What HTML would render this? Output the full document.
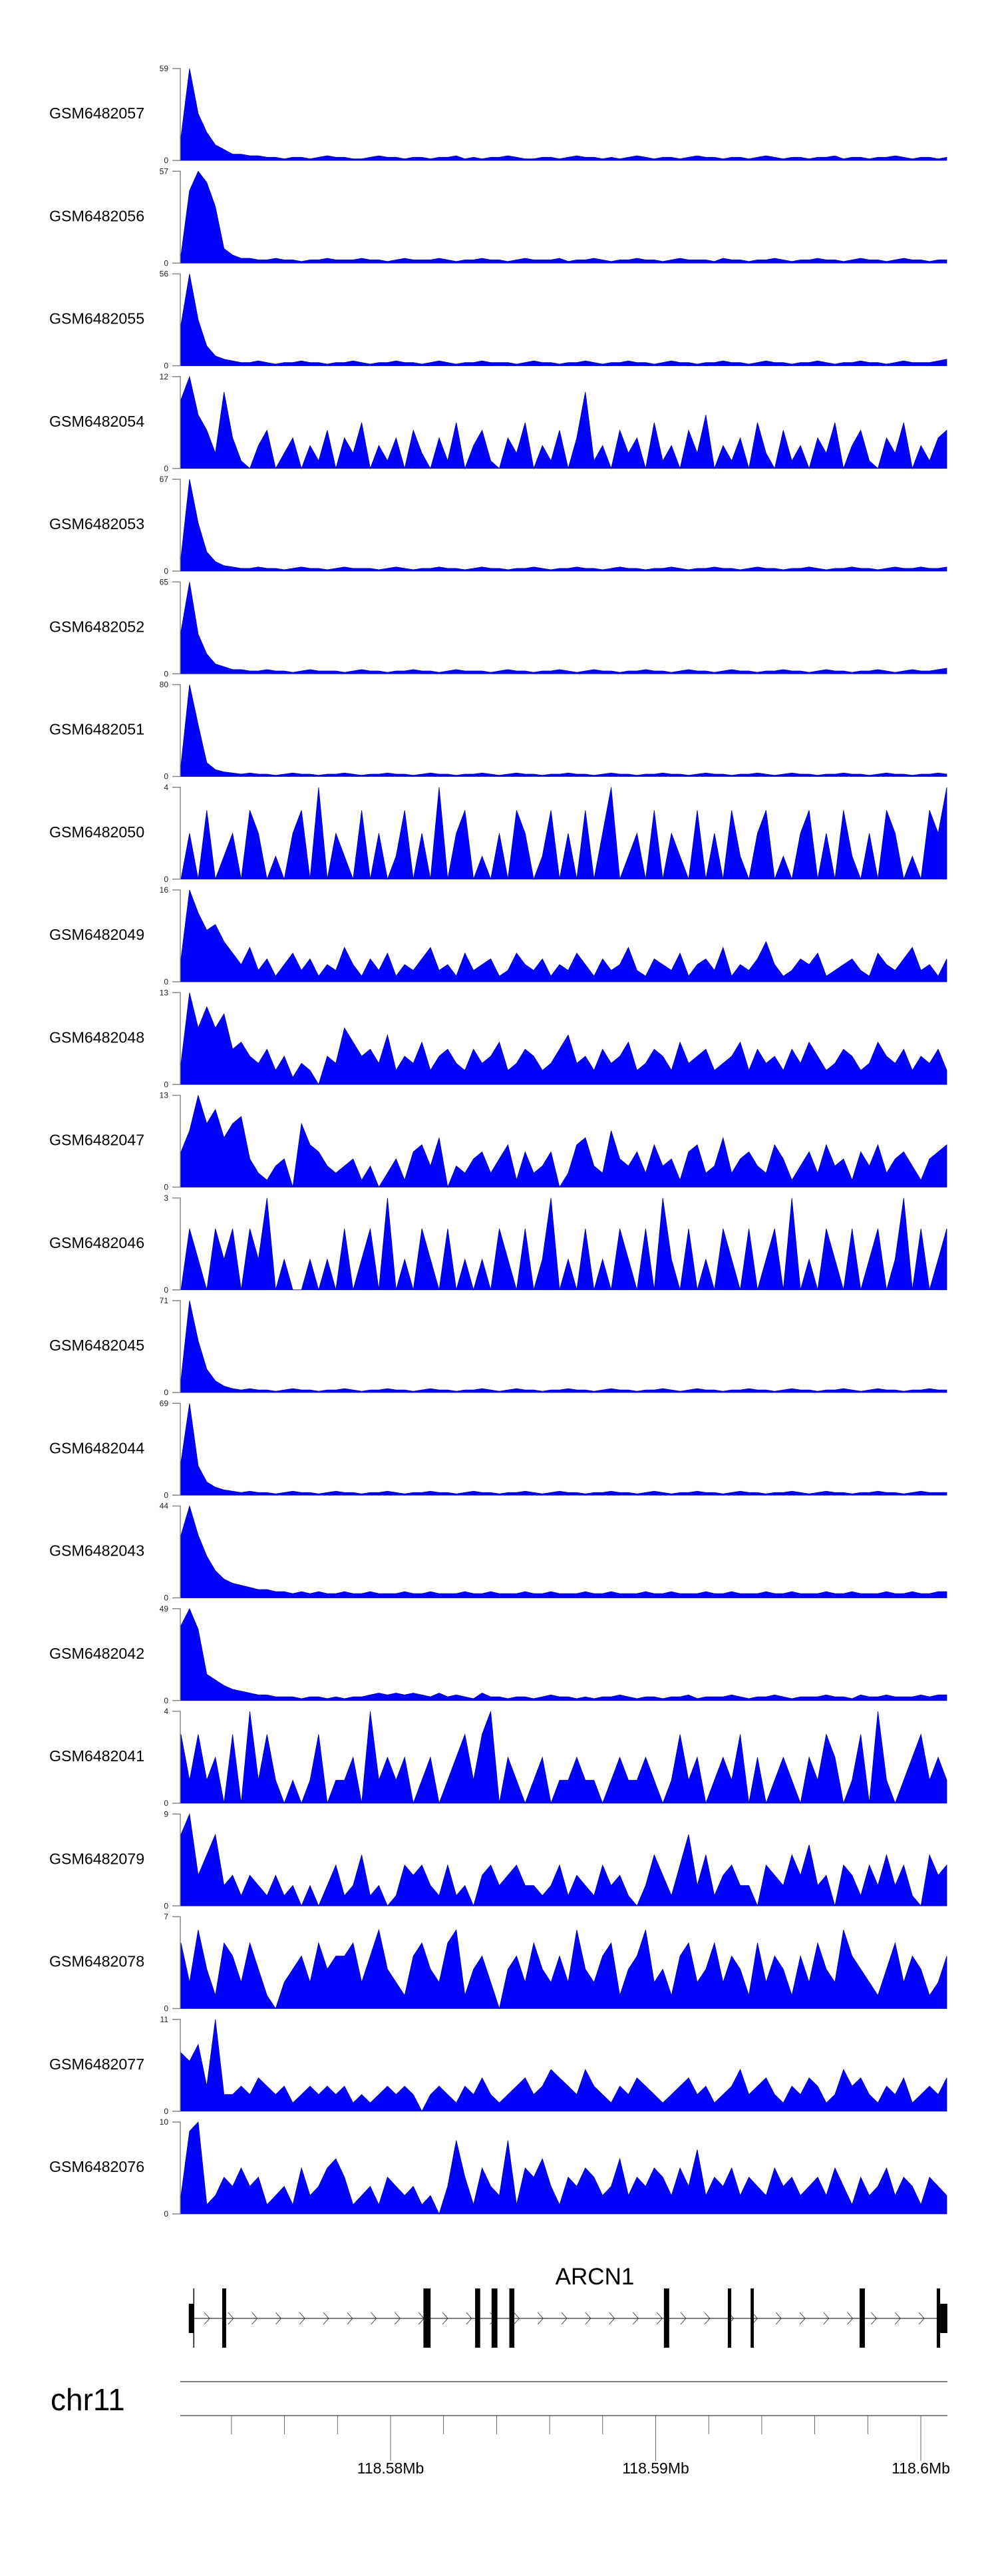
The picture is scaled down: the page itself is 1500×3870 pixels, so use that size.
<!DOCTYPE html>
<html><head><meta charset="utf-8"><style>
html,body{margin:0;padding:0;background:#fff;width:1500px;height:3870px;overflow:hidden}
svg{display:block}
text{font-family:"Liberation Sans",Arial,sans-serif}
</style></head><body>
<svg id="chart" width="1500" height="3870" xmlns="http://www.w3.org/2000/svg"></svg>
<script>
const trackNames=["GSM6482057","GSM6482056","GSM6482055","GSM6482054","GSM6482053","GSM6482052","GSM6482051","GSM6482050","GSM6482049","GSM6482048","GSM6482047","GSM6482046","GSM6482045","GSM6482044","GSM6482043","GSM6482042","GSM6482041","GSM6482079","GSM6482078","GSM6482077","GSM6482076"];
const trackMax=[59,57,56,12,67,65,80,4,16,13,13,3,71,69,44,49,4,9,7,11,10];
const t057=[15,59,30,18,10,7,4,4,3,3,2,2,1,2,2,1,2,3,2,2,1,1,2,3,2,2,1,2,2,1,2,2,3,1,2,1,2,2,3,2,1,1,2,2,1,2,3,2,2,1,2,1,2,3,2,1,2,2,1,2,3,2,2,1,2,2,1,2,3,2,1,2,2,1,2,2,3,1,2,2,1,2,2,3,2,1,2,2,1,2];
const t056=[5,45,57,50,35,9,5,3,3,2,2,3,2,2,1,2,2,3,2,2,2,3,2,2,1,2,3,2,2,2,3,2,1,2,2,3,2,2,1,2,3,2,2,2,3,1,2,2,3,2,1,2,2,3,2,2,1,2,3,2,2,2,1,3,2,2,1,2,2,3,2,1,2,2,3,2,2,1,2,3,2,2,1,2,3,2,2,1,2,2];
const t055=[25,56,28,12,6,4,3,2,2,3,2,1,2,2,3,2,2,1,2,2,3,2,1,2,2,3,2,2,1,2,3,2,1,2,2,3,2,2,2,1,2,3,2,2,1,2,2,3,2,1,2,2,3,2,2,1,2,3,2,2,1,2,2,3,2,2,1,2,3,2,2,1,2,2,3,2,1,2,2,3,2,2,1,2,3,2,2,2,3,4];
const t054=[9,12,7,5,2,10,4,1,0,3,5,0,2,4,0,3,1,5,0,4,2,6,0,3,1,4,0,5,2,0,4,1,6,0,3,5,1,0,4,2,6,0,3,1,5,0,4,10,1,3,0,5,2,4,0,6,1,3,0,5,2,7,0,3,1,4,0,6,2,0,5,1,3,0,4,2,6,0,3,5,1,0,4,2,6,0,3,1,4,5];
const t053=[10,67,35,14,7,4,3,2,2,3,2,2,1,2,3,2,2,1,2,3,2,2,2,1,2,3,2,1,2,2,3,2,2,1,2,3,2,2,1,2,2,3,2,1,2,2,3,2,2,1,2,3,2,2,1,2,2,3,2,1,2,2,3,2,2,1,2,3,2,2,1,2,2,3,2,1,2,2,3,2,2,1,2,3,2,2,3,2,2,3];
const t052=[30,65,28,14,7,5,3,3,2,2,3,2,2,1,2,3,2,2,2,1,2,3,2,2,1,2,2,3,2,2,1,2,3,2,2,2,1,2,3,2,2,1,2,2,3,2,1,2,3,2,2,1,2,2,3,2,2,1,2,3,2,2,1,2,3,2,2,1,2,2,3,2,2,1,2,3,2,2,1,2,2,3,2,1,2,3,2,2,3,4];
const t051=[10,80,45,12,6,4,3,2,3,2,2,1,2,3,2,2,1,2,2,3,2,1,2,2,3,2,2,1,2,3,2,2,1,2,2,3,2,1,2,3,2,2,1,2,2,3,2,2,1,2,3,2,2,1,2,2,3,2,2,1,2,3,2,2,1,2,2,3,2,1,2,3,2,2,1,2,2,3,2,2,1,2,3,2,2,1,2,2,3,2];
const t050=[0,2,0,3,0,1,2,0,3,2,0,1,0,2,3,0,4,0,2,1,0,3,0,2,0,1,3,0,2,0,4,0,2,3,0,1,0,2,0,3,2,0,1,3,0,2,0,3,0,2,4,0,1,2,0,3,0,2,1,0,3,0,2,0,3,1,0,2,3,0,1,0,2,3,0,2,0,3,1,0,2,0,3,2,0,1,0,3,2,4];
const t049=[4,16,12,9,10,7,5,3,6,2,4,1,3,5,2,4,1,3,2,6,3,1,4,2,5,1,3,2,4,6,2,3,1,5,2,3,4,1,2,5,3,2,4,1,3,2,5,3,1,4,2,3,6,2,1,4,3,2,5,1,3,4,2,6,1,3,2,4,7,3,1,2,4,3,5,1,2,3,4,2,1,5,3,2,4,6,2,3,1,4];
const t048=[3,13,8,11,8,10,5,6,4,3,5,2,4,1,3,2,0,4,3,8,6,4,5,3,7,2,4,3,6,2,4,5,3,2,5,3,4,6,2,3,5,4,2,3,5,7,3,4,2,5,3,4,6,2,3,5,4,2,6,3,4,5,2,3,4,6,2,5,3,4,2,5,3,6,4,2,3,5,4,2,3,6,4,3,5,2,4,3,5,2];
const t047=[5,8,13,9,11,7,9,10,4,2,1,3,4,0,9,6,5,3,2,3,4,1,3,0,2,4,1,5,6,3,7,0,3,2,4,5,2,4,6,1,5,2,3,5,0,2,6,7,3,2,8,4,3,5,2,6,3,4,1,5,6,2,3,7,2,4,5,3,2,6,4,1,3,5,2,6,3,4,1,5,3,6,2,4,5,3,1,4,5,6];
const t046=[0,2,1,0,2,1,2,0,2,1,3,0,1,0,0,1,0,1,0,2,0,1,2,0,3,0,1,0,2,1,0,2,0,1,0,1,0,2,1,0,2,0,1,3,0,1,0,2,0,1,0,2,1,0,2,0,3,1,0,2,0,1,0,2,1,0,2,0,1,2,0,3,0,1,0,2,1,0,2,0,1,2,0,1,3,0,2,0,1,2];
const t045=[10,71,40,18,9,5,3,2,3,2,2,1,2,3,2,2,1,2,2,3,2,1,2,2,3,2,2,1,2,3,2,2,1,2,2,3,2,1,2,3,2,2,1,2,2,3,2,2,1,2,3,2,2,1,2,2,3,2,1,2,3,2,2,1,2,2,3,2,2,1,2,3,2,2,1,2,2,3,2,1,2,3,2,2,1,2,2,3,2,2];
const t044=[25,69,22,10,6,4,3,2,3,2,2,1,2,3,2,2,1,2,3,2,2,1,2,2,3,2,1,2,2,3,2,2,1,2,3,2,2,1,2,2,3,2,1,2,3,2,2,1,2,2,3,2,2,1,2,3,2,1,2,2,3,2,2,1,2,3,2,2,1,2,2,3,2,1,2,3,2,2,1,2,2,3,2,2,1,2,3,2,2,2];
const t043=[30,44,30,20,13,9,7,6,5,4,4,3,3,2,3,2,3,2,2,3,2,2,3,2,2,2,3,2,2,3,2,2,2,3,2,2,3,2,2,2,3,2,2,3,2,2,2,3,2,2,3,2,2,2,3,2,2,3,2,2,2,3,2,2,3,2,2,2,3,2,2,3,2,2,2,3,2,2,3,2,2,2,3,2,2,3,2,2,3,3];
const t042=[40,49,38,14,11,8,6,5,4,3,3,2,2,2,1,2,2,1,2,1,2,2,3,4,3,4,3,4,3,2,4,2,3,2,1,4,2,2,1,2,2,1,2,3,2,2,1,2,1,2,2,3,2,1,2,2,1,2,2,3,1,2,2,2,3,2,1,2,2,3,2,1,2,2,2,3,2,2,1,3,2,2,3,2,2,2,3,2,3,3];
const t041=[3,1,3,1,2,0,3,0,4,1,3,1,0,1,0,1,3,0,1,1,2,0,4,1,2,1,2,0,1,2,0,1,2,3,1,3,4,0,2,1,0,1,2,0,1,1,2,1,1,0,1,2,1,1,2,1,0,1,3,1,2,0,1,2,1,3,0,2,0,1,2,1,0,2,1,3,2,0,1,3,0,4,1,0,1,2,3,1,2,1];
const t079=[7,9,3,5,7,2,3,1,3,2,1,3,1,2,0,2,0,2,4,1,2,5,1,2,0,1,4,3,4,2,1,4,1,2,0,3,4,2,3,4,2,2,1,2,4,1,3,2,1,4,2,3,1,0,2,5,3,1,4,7,2,5,1,3,4,2,2,0,4,3,2,5,3,6,2,3,0,4,3,1,4,2,5,2,4,1,0,5,3,4];
const t078=[5,2,6,3,1,5,4,2,5,3,1,0,2,3,4,2,5,3,4,4,5,2,4,6,3,2,1,4,5,3,2,5,6,1,3,4,2,0,3,4,2,5,3,2,4,2,6,3,2,4,5,1,3,4,6,2,3,1,4,5,2,3,5,2,4,3,1,5,2,4,3,1,4,2,5,3,2,6,4,3,2,1,3,5,2,4,3,1,2,4];
const t077=[7,6,8,3,11,2,2,3,2,4,3,2,3,1,2,3,2,3,2,3,1,2,1,2,3,2,3,2,0,2,3,2,1,3,2,4,2,1,2,3,4,2,3,5,4,3,2,5,3,2,1,3,2,4,3,2,1,2,3,4,2,3,1,2,3,5,2,3,4,2,1,3,2,4,3,1,2,5,3,4,2,1,3,2,4,1,2,3,2,4];
const t076=[2,9,10,1,2,4,3,5,3,4,1,2,3,1,5,2,3,5,6,4,1,2,3,1,4,3,2,3,1,2,0,3,8,4,1,5,3,2,8,1,5,4,6,3,1,4,3,5,4,2,3,6,2,4,3,5,4,2,5,3,7,2,4,3,5,2,4,3,2,5,3,4,2,3,4,2,5,3,1,4,2,3,5,2,4,3,1,4,3,2];
const trackValues=[t057,t056,t055,t054,t053,t052,t051,t050,t049,t048,t047,t046,t045,t044,t043,t042,t041,t079,t078,t077,t076];
// gene model (Mb)
const exonStarts=[118.57256,118.57365,118.58124,118.58319,118.58381,118.58448,118.59031,118.59272,118.59358,118.59769,118.60060];
const exonEnds=[118.57259,118.57380,118.58151,118.58338,118.58403,118.58467,118.59051,118.59285,118.59370,118.59789,118.60073];
const utrStarts=[118.57239,118.60073];
const utrEnds=[118.57256,118.60100];
const axisTicks=[118.574,118.576,118.578,118.58,118.582,118.584,118.586,118.588,118.59,118.592,118.594,118.596,118.598,118.6];
const axisLabels=["118.58Mb","118.59Mb","118.6Mb"];
const labelPos=[118.58,118.59,118.6];

const NS="http://www.w3.org/2000/svg";
const svg=document.getElementById('chart');
function mk(tag,attrs,parent){const e=document.createElementNS(NS,tag);for(const k in attrs)e.setAttribute(k,attrs[k]);(parent||svg).appendChild(e);return e;}
const X0=272,X1=1423,TOP0=103,STEP=154.25,H=138;
function gx(mb){return 587+(mb-118.58)*39850;}

trackNames.forEach((name,i)=>{
  const top=TOP0+STEP*i, base=top+H, vals=trackValues[i], max=trackMax[i];
  const g=mk('g',{});
  
  
  const lab=mk('text',{x:74,y:top+75,'font-size':23.2,fill:'#000'},g);lab.textContent=name;
  
  
  const ax=mk('path',{d:`M259 ${top}H271V${base}H259`,stroke:'#888',fill:'none','stroke-width':1.5},g);
  
  
  const tmax=mk('text',{x:253,y:top+4,'font-size':12,'text-anchor':'end',fill:'#222'},g);tmax.textContent=max;
  
  
  const t0=mk('text',{x:253,y:base+4,'font-size':12,'text-anchor':'end',fill:'#222'},g);t0.textContent='0';
  
  
  const n=vals.length;let d=`M${X0} ${base}`;
  vals.forEach((v,j)=>{const x=X0+j*(X1-X0)/(n-1);const y=base-Math.min(v,max)/max*H;d+=`L${x.toFixed(1)} ${y.toFixed(1)}`;});
  d+=`L${X1} ${base}Z`;
  const area=mk('path',{d:d,fill:'#0000ff',stroke:'#00009a','stroke-width':0.8},g);
  
  
});

// gene track
const gg=mk('g',{});


const gl=mk('text',{x:894,y:3432,'font-size':35,'text-anchor':'middle',fill:'#000'},gg);gl.textContent='ARCN1';


const intron=mk('line',{x1:gx(utrEnds[0]),x2:gx(utrStarts[1]),y1:3483,y2:3483,stroke:'#333','stroke-width':1.2},gg);


for(let x=307;x<1405;x+=35.8){
  const c=mk('path',{d:`M${x} 3474L${x+8} 3483L${x} 3492`,stroke:'#333',fill:'none','stroke-width':0.9},gg);
  
  
}
exonStarts.forEach((s,i)=>{
  const x=gx(s),w=Math.max(1.5,gx(exonEnds[i])-x);
  const r=mk('rect',{x:x,y:3438,width:w,height:89,fill:'#000'},gg);
  
  
});
utrStarts.forEach((s,i)=>{
  const x=gx(s),w=gx(utrEnds[i])-x;
  const r=mk('rect',{x:x,y:3461,width:w,height:44,fill:'#000'},gg);
  
  
});

// genome axis
const ag=mk('g',{});


const chr=mk('text',{x:76,y:3621,'font-size':46,fill:'#000'},ag);chr.textContent='chr11';


const l1=mk('line',{x1:271,x2:1424,y1:3578,y2:3578,stroke:'#555','stroke-width':1.5},ag);


const l2=mk('line',{x1:271,x2:1424,y1:3629,y2:3629,stroke:'#888','stroke-width':2},ag);


axisTicks.forEach(t=>{
  const major=labelPos.some(p=>Math.abs(p-t)<1e-6);
  const x=gx(t);
  const tk=mk('line',{x1:x,x2:x,y1:3629,y2:major?3697:3657,stroke:'#444','stroke-width':0.8},ag);
  
  
});
axisLabels.forEach((s,i)=>{
  const t=mk('text',{x:gx(labelPos[i]),y:3716,'font-size':23,'text-anchor':'middle',fill:'#000'},ag);t.textContent=s;
  
  
});
</script>
</body></html>
